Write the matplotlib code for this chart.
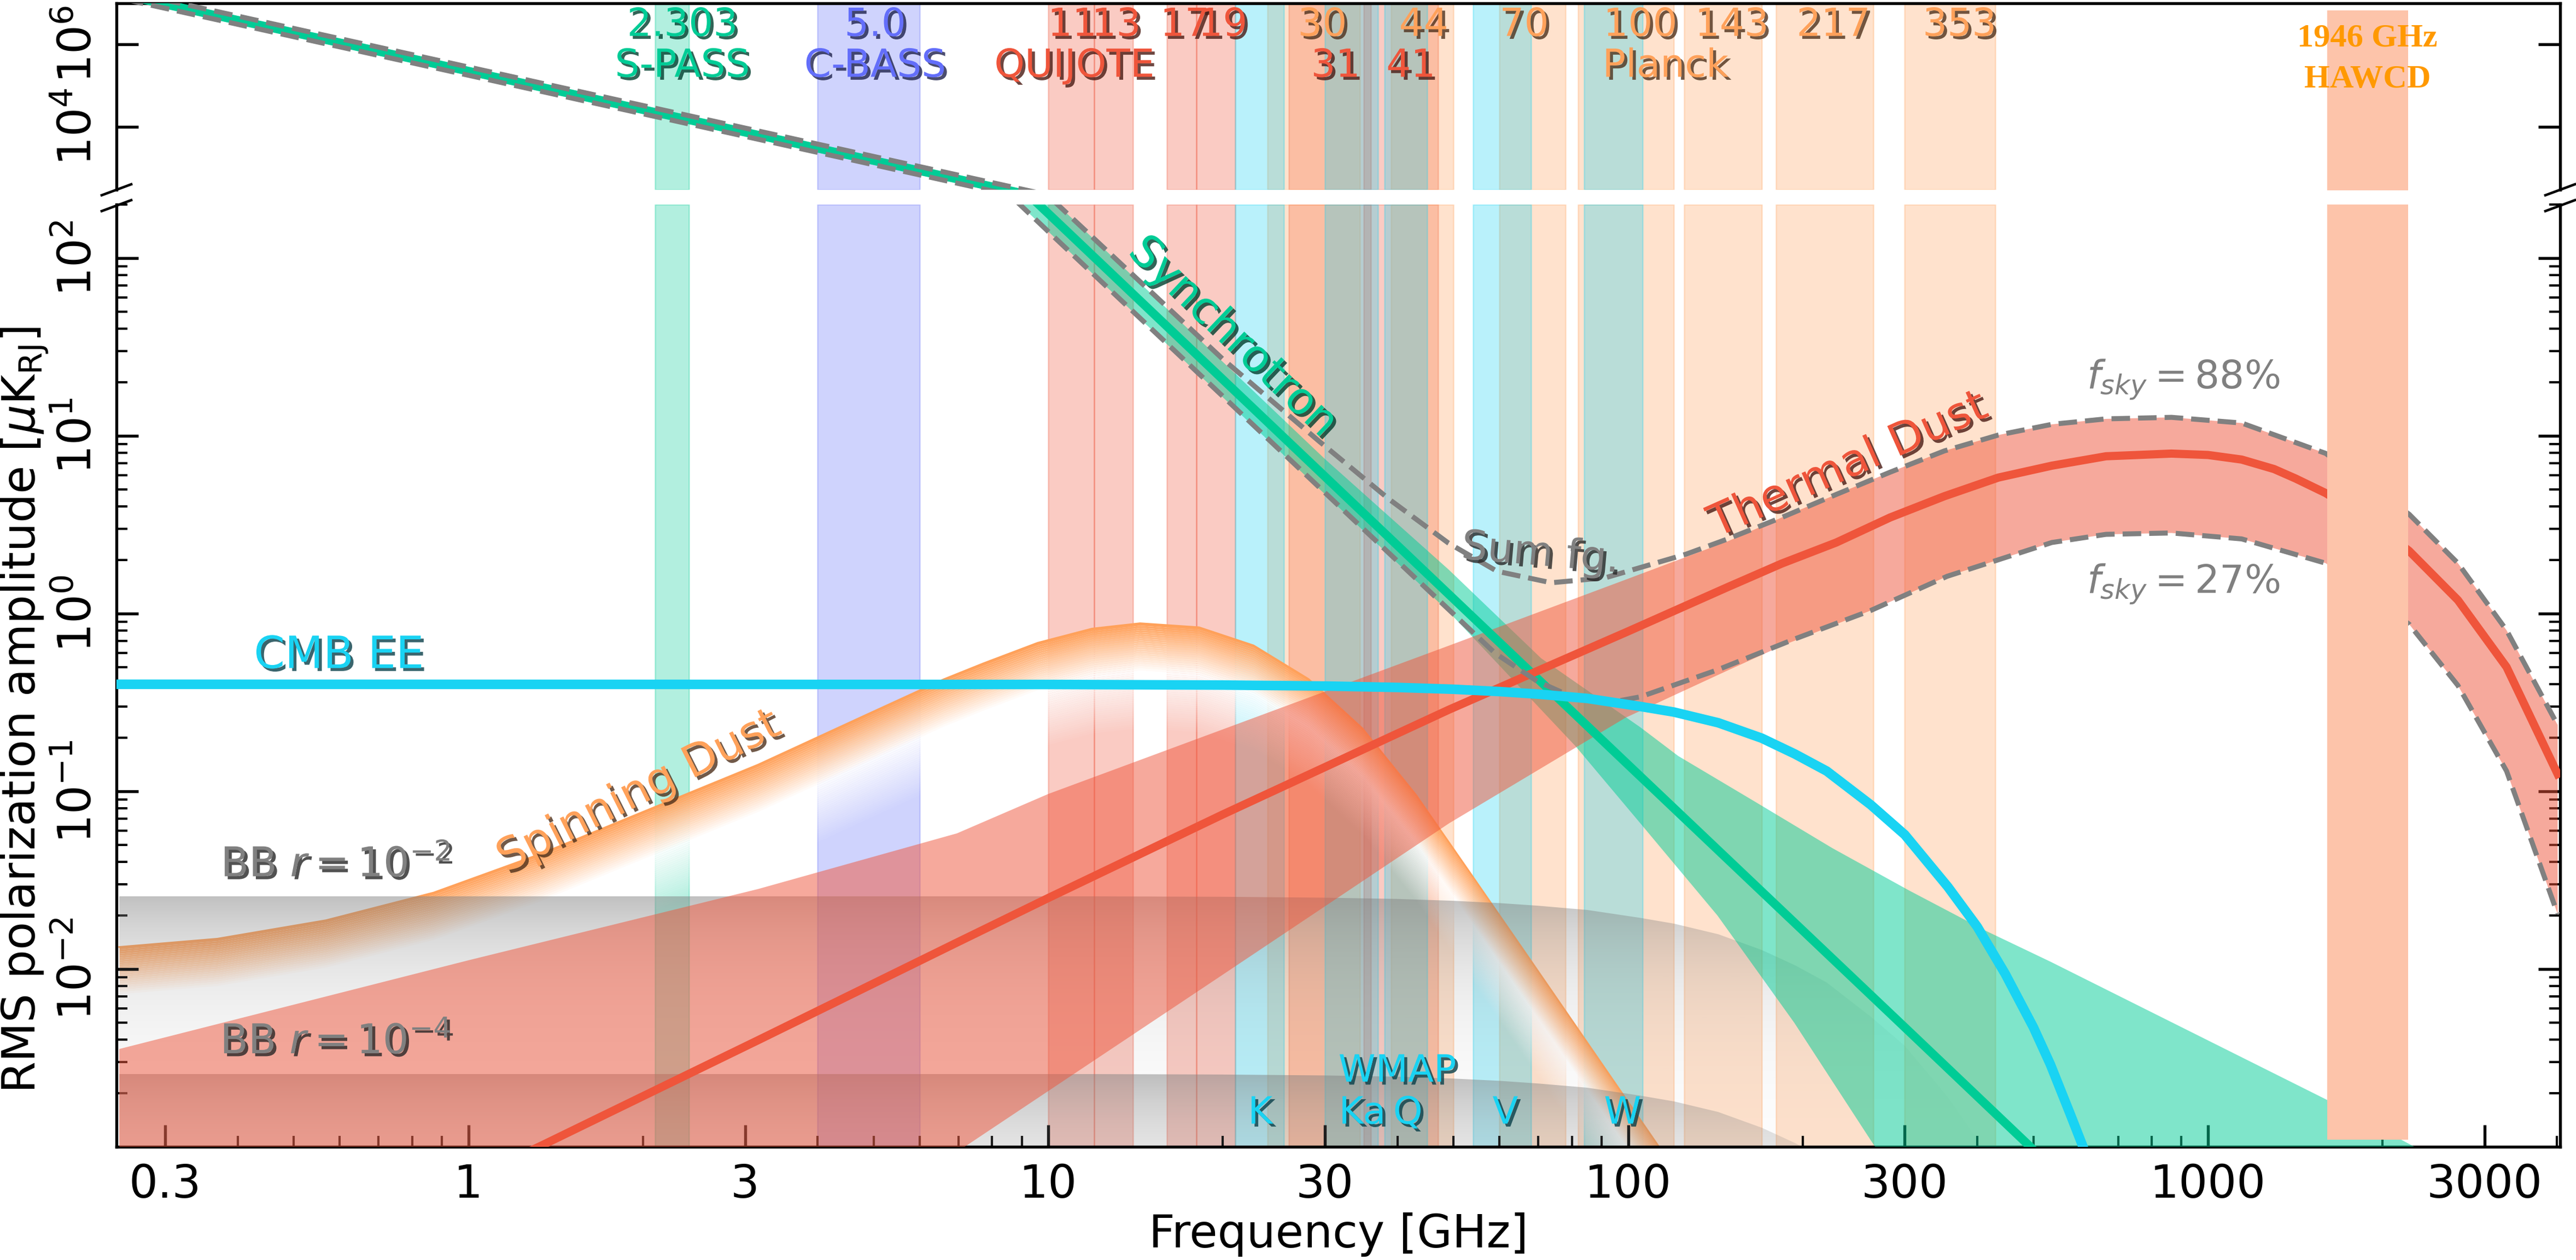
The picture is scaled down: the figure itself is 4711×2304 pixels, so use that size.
import numpy as np
import matplotlib
matplotlib.use('Agg')
import matplotlib.pyplot as plt
import matplotlib.patheffects as pe
from matplotlib.colors import to_rgb
from matplotlib.patches import Polygon
from matplotlib.lines import Line2D
from matplotlib.ticker import FixedLocator, FixedFormatter, LogLocator, NullLocator, NullFormatter

W, H, DPI = 4711, 2304, 300

BLUE = '#636EFA'
RED = '#EF553B'
GREEN = '#00CC96'
ORANGE = '#FFA15A'
CYAN = '#19D3F3'
GREY = 'gray'

# ---- experiment bands [GHz] ----
spass_bands = [(2.1, 2.4)]
cbass_bands = [(4.0, 6.0)]
quijote_bands = [(10, 12), (12, 14), (16, 18), (18, 21), (26, 36), (35, 47)]
planck_bands = [(23.9, 34.5), (39, 50), (60, 78), (82, 120), (125, 170), (180, 265), (300, 430)]
wmap_bands = [(21, 25.5), (30, 37), (38, 45), (54, 68), (84, 106)]
hawcd_band = (1605, 2215)
hawcd_amp = (1.1e-3, 6.7e6)

# ---- CMB EE and BB ----
cmb_freq = [0.25, 10, 20, 30, 40, 50, 60, 70, 85, 105, 120, 143, 170, 194, 220, 262, 300, 356,
            400, 447, 500, 535, 580, 620, 700]
cmb_amp = [0.40, 0.399, 0.396, 0.391, 0.384, 0.375, 0.364, 0.352, 0.333, 0.30, 0.279, 0.243,
           0.199, 0.162, 0.130, 0.084, 0.057, 0.029, 0.0173, 0.0094, 0.0047, 0.0029, 0.0015,
           0.00086, 0.00027]
bb2_amp = [0.0258, 0.0257, 0.0255, 0.0252, 0.0248, 0.0242, 0.0235, 0.0227, 0.0215, 0.0194,
           0.018, 0.0157, 0.0128, 0.0105, 0.0084, 0.0054, 0.0037, 0.0019, 0.0011, 0.00061,
           0.0003, 0.00019, 0.0001, 0.000055, 0.000017]
bb4_amp = [0.00258, 0.00257, 0.00255, 0.00252, 0.00248, 0.00242, 0.00235, 0.00227, 0.00215,
           0.00194, 0.0018, 0.00157, 0.00128, 0.00105, 0.00084, 0.00054, 0.00037, 0.00019,
           0.00011, 0.000061, 0.00003, 0.000019, 0.00001, 0.0000055, 0.0000017]

# ---- synchrotron ----
sync_freq = [0.25, 1, 3, 10, 30, 100, 300, 1000]
sync_amp = [1.64e7, 2.24e5, 7.43e3, 178, 5.9, 0.141, 4.7e-3, 1.12e-4]
sync_hi_freq = [0.25, 10, 30, 49.1, 70.8, 105, 122, 166, 225, 305, 414, 535, 1613, 2270, 4000]
sync_hi_amp = [2.07e7, 224, 7.4, 1.76, 0.56, 0.229, 0.158, 0.0869, 0.0479, 0.0277, 0.0164,
               0.011, 0.00182, 0.001, 3.8e-4]
sync_lo_freq = [0.25, 10, 49.1, 81.2, 105, 142.6, 193.5, 262, 400]
sync_lo_amp = [1.31e7, 141, 1.02, 0.179, 0.066, 0.02, 0.00498, 0.00109, 1.4e-4]

# ---- thermal dust ----
dust_freq = [1.0, 1.34, 3.16, 6.96, 10, 20, 49.1, 100, 148.6, 184, 228.6, 283, 351, 435, 538,
             667, 865, 1000, 1143, 1300, 1416, 1596, 1900, 2223, 2698, 3273, 4009]
dust_amp = [6.5e-4, 1.02e-3, 3.98e-3, 0.0141, 0.0251, 0.0741, 0.288, 0.794, 1.41, 1.91, 2.51,
            3.47, 4.57, 5.82, 6.79, 7.67, 7.94, 7.8, 7.35, 6.5, 5.75, 4.76, 3.35, 2.25, 1.19,
            0.50, 0.125]
dust_hi_freq = [0.25, 1, 3.16, 6.96, 10, 20, 49.1, 100, 148.6, 184, 228.6, 283, 351, 435, 538,
                667, 865, 1143, 1596, 2223, 2698, 3273, 4009]
dust_hi_amp = [3.55e-3, 0.0112, 0.0282, 0.058, 0.0966, 0.223, 0.66, 1.57, 2.55, 3.47, 4.68, 6.24,
               8.22, 10.1, 11.6, 12.45, 12.7, 11.8, 7.96, 3.62, 1.92, 0.805, 0.236]
dust_lo_freq = [0.25, 3.16, 7.24, 20, 49.1, 98.9, 148.6, 184, 262, 355, 538, 667, 865, 1143,
                1596, 2223, 2698, 3273, 4009]
dust_lo_amp = [1e-6, 1.7e-4, 1.02e-3, 9.3e-3, 0.066, 0.259, 0.479, 0.658, 1.04, 1.62, 2.51, 2.79,
               2.84, 2.63, 1.92, 0.871, 0.394, 0.130, 0.0204]

# ---- spinning dust (upper envelope) ----
ame_freq = [0.25, 0.369, 0.568, 0.871, 1.339, 2.056, 3.158, 4.853, 6.61, 7.74, 9.59, 11.9, 14.4,
            18.2, 22.6, 28.1, 34.8, 43.1, 53.4, 66.2, 82, 113, 150]
ame_amp = [0.0133, 0.0148, 0.0188, 0.0269, 0.0447, 0.0794, 0.141, 0.269, 0.427, 0.525, 0.684,
           0.822, 0.881, 0.836, 0.661, 0.428, 0.226, 0.095, 0.0347, 0.0126, 4.57e-3, 1.0e-3,
           2.6e-4]

# ---- total foreground, fsky = 88% / 27% ----
sum_hi_freq = [0.25, 10, 20, 29.3, 38.7, 49, 59.4, 73.7, 91.4, 126, 148.6, 184, 228.6, 283, 351,
               435, 538, 667, 865, 1143, 1596, 2223, 2698, 3273, 4009]
sum_hi_amp = [2.07e7, 224, 27, 9.33, 4.40, 2.49, 1.73, 1.49, 1.59, 2.16, 2.63, 3.47, 4.68, 6.24,
              8.22, 10.1, 11.6, 12.45, 12.7, 11.8, 7.96, 3.62, 1.92, 0.805, 0.236]
sum_lo_freq = [0.25, 10, 49.1, 58.9, 69.7, 81.2, 93.1, 105, 142.6, 193.5, 262, 355, 538, 667, 865,
               1143, 1596, 2223, 2698, 3273, 4009]
sum_lo_amp = [1.31e7, 141, 1.05, 0.60, 0.416, 0.333, 0.316, 0.34, 0.482, 0.718, 1.04, 1.62, 2.51,
              2.79, 2.84, 2.63, 1.92, 0.871, 0.394, 0.130, 0.0204]

# ---- labels ----
top_num_text = ['2.303', '5.0', '11', '13', '17', '19', '30', '44', '70', '100', '143', '217', '353']
top_num_freq = [2.34, 5.03, 11.0, 13.1, 17.2, 20.0, 29.7, 44.4, 66.2, 105, 151, 226, 373]
top_num_col = [GREEN, BLUE, RED, RED, RED, RED, ORANGE, ORANGE, ORANGE, ORANGE, ORANGE, ORANGE, ORANGE]
top_name_text = ['S-PASS', 'C-BASS', 'QUIJOTE', '31', '41', 'Planck']
top_name_freq = [2.34, 5.03, 11.1, 31.3, 42.2, 116]
top_name_col = [GREEN, BLUE, RED, RED, RED, ORANGE]
wmap_text = ['K', 'Ka', 'Q', 'V', 'W']
wmap_freq = [23.2, 34.8, 41.7, 61.4, 97.8]


def shadow():
    return [pe.withSimplePatchShadow(offset=(1.3, -1.3), alpha=0.8, rho=0.3)]


def draw_bands(a):
    for lo, hi in spass_bands:
        a.axvspan(lo, hi, color=GREEN, alpha=0.3, lw=0.6, zorder=0)
    for lo, hi in cbass_bands:
        a.axvspan(lo, hi, color=BLUE, alpha=0.3, lw=0.6, zorder=0)
    for lo, hi in quijote_bands:
        a.axvspan(lo, hi, color=RED, alpha=0.3, lw=0.6, zorder=0)
    for lo, hi in planck_bands:
        a.axvspan(lo, hi, color=ORANGE, alpha=0.3, lw=0.6, zorder=0)
    for lo, hi in wmap_bands:
        a.axvspan(lo, hi, color=CYAN, alpha=0.3, lw=0.6, zorder=0)
    a.fill_between(hawcd_band, hawcd_amp[0], hawcd_amp[1], color='#fdc4aa', lw=0, zorder=6)


def band_poly(a, fhi, vhi, flo, vlo, color, z):
    a.fill(np.r_[fhi, flo[::-1]], np.r_[vhi, vlo[::-1]], color=color, alpha=0.5, lw=0, zorder=z)


def fade_below(a, x, y, color, depth=0.6, n=50, z=1):
    x = np.asarray(x)
    y = np.asarray(y)
    rgb = np.array(to_rgb(color))
    for i in range(n):
        t0, t1 = i / n, (i + 1) / n
        tm = 0.5 * (t0 + t1)
        s = min(1.0, tm / 0.45)
        c = rgb * (1 - s) + s
        al = 1.0 if tm < 0.4 else max(0.0, 1 - (tm - 0.4) / 0.6)
        a.fill_between(x, y * 10 ** (-depth * t1), y * 10 ** (-depth * t0), color=c, alpha=al,
                       lw=0, antialiased=False, zorder=z)
    a.plot(x, y, color=color, lw=0.8, zorder=z)


def grad_fill(a, x, y, color, alpha_top, z):
    x = np.asarray(x)
    y = np.asarray(y)
    ybot = 1e-6
    img = np.zeros((512, 1, 4))
    img[:, 0, :3] = to_rgb(color)
    img[:, 0, 3] = np.linspace(0, alpha_top, 512)
    im = a.imshow(img, aspect='auto', origin='lower', extent=[x.min(), x.max(), ybot, y.max()],
                  zorder=z, interpolation='bilinear')
    verts = np.column_stack([np.r_[x[0], x, x[-1]], np.r_[ybot, y, ybot]])
    clip = Polygon(verts, closed=True, facecolor='none', edgecolor='none', transform=a.transData)
    a.add_patch(clip)
    im.set_clip_path(clip)


fig = plt.figure(figsize=(W / DPI, H / DPI), dpi=DPI)
ax = fig.add_axes([213 / W, 1 - 2097 / H, (4682 - 213) / W, (2097 - 374) / H])
axt = fig.add_axes([213 / W, 1 - 347 / H, (4682 - 213) / W, (347 - 5.5) / H])

for a in (ax, axt):
    a.set_xscale('log')
    a.set_yscale('log')
    draw_bands(a)
    band_poly(a, sync_hi_freq, sync_hi_amp, sync_lo_freq, sync_lo_amp, GREEN, 3)
    a.plot(sync_freq, sync_amp, color=GREEN, lw=3.8, zorder=4)
    a.plot(sum_hi_freq, sum_hi_amp, '--', color=GREY, lw=2.2, zorder=5)
    a.plot(sum_lo_freq, sum_lo_amp, '--', color=GREY, lw=2.2, zorder=5)

# main panel only
fade_below(ax, ame_freq, ame_amp, ORANGE, z=1)
grad_fill(ax, cmb_freq, bb2_amp, GREY, 0.5, 2)
grad_fill(ax, cmb_freq, bb4_amp, GREY, 0.5, 2)
band_poly(ax, dust_hi_freq, dust_hi_amp, dust_lo_freq, dust_lo_amp, RED, 3)
ax.plot(dust_freq, dust_amp, color=RED, lw=3.6, zorder=4)
ax.plot(cmb_freq, cmb_amp, color=CYAN, lw=4.2, zorder=5)

for a in (ax, axt):
    a.set_xlim(0.2472, 4049)
ax.set_ylim(1e-3, 200)
axt.set_ylim(300, 1e7)

# ticks
xt = [0.3, 1, 3, 10, 30, 100, 300, 1000, 3000]
ax.xaxis.set_major_locator(FixedLocator(xt))
ax.xaxis.set_major_formatter(FixedFormatter(['0.3', '1', '3', '10', '30', '100', '300', '1000', '3000']))
ax.xaxis.set_minor_locator(LogLocator(base=10, subs=np.arange(2, 10), numticks=50))
ax.xaxis.set_minor_formatter(NullFormatter())
ax.yaxis.set_major_locator(FixedLocator([1e-2, 1e-1, 1, 10, 100]))
ax.yaxis.set_minor_locator(LogLocator(base=10, subs=np.arange(2, 10), numticks=50))
ax.yaxis.set_minor_formatter(NullFormatter())
axt.yaxis.set_major_locator(FixedLocator([1e4, 1e6]))
axt.yaxis.set_minor_locator(NullLocator())
axt.xaxis.set_major_locator(NullLocator())
axt.xaxis.set_minor_locator(NullLocator())

for a in (ax, axt):
    a.tick_params(which='both', direction='in', right=True, top=False, labelsize=20)
    a.tick_params(which='major', length=9.5, width=1.3, pad=7)
    a.tick_params(which='minor', length=4.8, width=1.0)
    a.tick_params(axis='y', labelrotation=90)
    plt.setp(a.get_yticklabels(), va='center')
    for sp in a.spines.values():
        sp.set_linewidth(1.3)
ax.spines['top'].set_visible(False)
axt.spines['bottom'].set_visible(False)
axt.tick_params(axis='x', which='both', bottom=False, labelbottom=False)

# broken axis marks
for xc in (213, 4682):
    for yc in (347, 376):
        fig.add_artist(Line2D([(xc - 27) / W, (xc + 27) / W], [1 - (yc + 10) / H, 1 - (yc - 10) / H],
                              color='k', lw=1.1))

# band labels in top panel
tr = axt.get_xaxis_transform()
for t, f, c in zip(top_num_text, top_num_freq, top_num_col):
    axt.text(f, 0.881, t, color=c, fontsize=17, ha='center', va='center', transform=tr,
             path_effects=shadow(), zorder=8)
for t, f, c in zip(top_name_text, top_name_freq, top_name_col):
    axt.text(f, 0.662, t, color=c, fontsize=17, ha='center', va='center', transform=tr,
             path_effects=shadow(), zorder=8)
axt.text(1884, 0.811, '1946 GHz', color='#ff9900', fontsize=14.5, family='Liberation Serif',
         fontweight='bold', ha='center', va='center', transform=tr, zorder=8)
axt.text(1884, 0.589, 'HAWCD', color='#ff9900', fontsize=14.5, family='Liberation Serif',
         fontweight='bold', ha='center', va='center', transform=tr, zorder=8)

# WMAP labels
ax.text(40, 2.67e-3, 'WMAP', color=CYAN, fontsize=16.5, ha='center', va='center',
        path_effects=shadow(), zorder=8)
for t, f in zip(wmap_text, wmap_freq):
    ax.text(f, 1.55e-3, t, color=CYAN, fontsize=16.5, ha='center', va='center',
            path_effects=shadow(), zorder=8)

# component labels
kw = dict(ha='center', va='center', rotation_mode='anchor', path_effects=shadow(), zorder=8)
ax.text(20.8, 35.7, 'Synchrotron', color=GREEN, fontsize=19.5, rotation=-43.5, **kw)
ax.text(240, 6.8, 'Thermal Dust', color=RED, fontsize=19.5, rotation=24, **kw)
ax.text(1.97, 0.099, 'Spinning Dust', color=ORANGE, fontsize=19.5, rotation=26.7, **kw)
ax.text(0.598, 0.577, 'CMB EE', color=CYAN, fontsize=19.5, **kw)
ax.text(0.59, 0.0383, r'BB $r=10^{-2}$', color=GREY, fontsize=18, **kw)
ax.text(0.59, 0.00387, r'BB $r=10^{-4}$', color=GREY, fontsize=18, **kw)
ax.text(70.6, 2.16, 'Sum fg.', color=GREY, fontsize=18, rotation=-5, **kw)
ax.text(906, 20.6, r'$f_{sky} = 88\%$', color=GREY, fontsize=17, ha='center', va='center', zorder=8)
ax.text(906, 1.456, r'$f_{sky} = 27\%$', color=GREY, fontsize=17, ha='center', va='center', zorder=8)

fig.text(2448 / W, 1 - 2258 / H, 'Frequency [GHz]', fontsize=20, ha='center', va='center')
fig.text(45 / W, 1 - 1298 / H, r'RMS polarization amplitude [$\mu$K$_{\rm RJ}$]', fontsize=20,
         rotation=90, ha='center', va='center')

fig.savefig('out.png', dpi=DPI)
